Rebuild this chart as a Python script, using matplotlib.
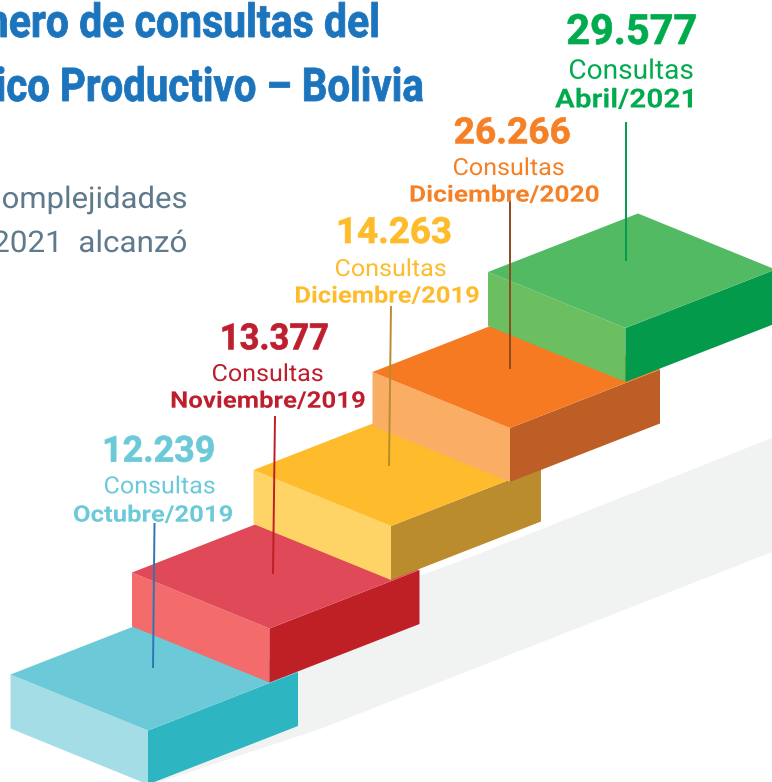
import matplotlib
matplotlib.use("Agg")
import matplotlib.pyplot as plt
from matplotlib.patches import Polygon
from matplotlib.textpath import TextPath
from matplotlib.font_manager import FontProperties
from matplotlib.patheffects import AbstractPathEffect
from matplotlib.transforms import Affine2D

# ---- data ----
months = ["Octubre/2019", "Noviembre/2019", "Diciembre/2019", "Diciembre/2020", "Abril/2021"]
consultas = [12239, 13377, 14263, 26266, 29577]
unit_label = "Consultas"
title_lines = ["Número de consultas del", "Económico Productivo – Bolivia"]
title_fit = ["de consultas del", "Productivo – Bolivia"]
body_lines = ["Complejidades", "2021  alcanzó"]
body_fit = ["omplejidades", "alcanzó"]

# ---- styles ----
top_cols = ["#6CCAD8", "#E04957", "#FEBB2B", "#F67A21", "#52BA63"]
left_cols = ["#A4DDE5", "#F36B6A", "#FFD466", "#FAAD65", "#6CBF60"]
right_cols = ["#2DB5C1", "#BE2025", "#BB8C2D", "#BD5E26", "#049A4C"]
text_cols = ["#6CCAD8", "#BE1E2D", "#FEBB2B", "#F58025", "#00AB4E"]
lead_cols = ["#2E75B6", "#BE1E24", "#BC8C2C", "#8B4A1E", "#049A4C"]
num_size = [26, 26, 26, 26, 30]
con_size = [17, 17, 17, 17, 19.5]
mon_size = [16.5, 16.5, 16.5, 16.5, 19]

# ---- layout (pixels) ----
step_x = [10.5, 132, 253.5, 372.5, 488]
step_y = [674.5, 572.5, 470, 372, 272]
front = (137.5, 56)
side = (150, -58.5)
depth = 54
lead_top = [(154.5, 523), (275, 416), (391, 306), (510, 200), (625.5, 122)]
lead_bot = [(153, 668), (273, 574), (389, 466), (510, 369), (625.5, 261)]
num_x = [(105, 213.5), (222.7, 327.5), (339, 450.2), (455, 569.5), (567.7, 695.5)]
con_x = [(105, 214.5), (213, 322.5), (336, 445.5), (454, 563.5), (570, 692.5)]
mon_x = [(74, 232), (171.7, 364.5), (296, 478.5), (410.7, 598.5), (555, 692)]
num_base = [461.7, 349.3, 243, 143.3, 44]
con_base = [493.3, 381, 276, 175, 78.7]
mon_base = [521.7, 407.7, 302.7, 201.7, 107.5]
shadow_x = [148, 300, 476, 772, 772, 320, 160]
shadow_y = [785, 620, 555, 438, 552, 729, 782]
DPI = 100


class HScale(AbstractPathEffect):
    """Draws the text narrower or wider, anchored at its origin, with an optional thickening stroke."""
    def __init__(self, sx, stroke=0.0):
        super().__init__()
        self.sx = sx
        self.stroke = stroke

    def draw_path(self, renderer, gc, tpath, affine, rgbFace=None):
        g = renderer.new_gc()
        g.copy_properties(gc)
        g.set_linewidth(self.stroke)
        if self.stroke > 0:
            g.set_foreground(rgbFace)
        renderer.draw_path(g, tpath, Affine2D().scale(self.sx, 1) + affine, rgbFace)
        g.restore()


def ink(s, fp):
    e = TextPath((0, 0), s, prop=fp).get_extents()
    return e.x0 * DPI / 72, e.x1 * DPI / 72


def fit_text(ax, s, x0, x1, base, size, weight, color, stroke=0.0):
    fp = FontProperties(family="Roboto", weight=weight, size=size)
    a, b = ink(s, fp)
    sx = (x1 - x0) / (b - a)
    ax.text(x0 - a * sx, base, s, color=color, ha="left", va="baseline", fontproperties=fp,
            path_effects=[HScale(sx, stroke)], zorder=21)


def fit_right(ax, s, sub, sub_width, right, base, size, weight, color, stroke=0.0):
    fp = FontProperties(family="Roboto", weight=weight, size=size)
    a, b = ink(sub, fp)
    sx = sub_width / (b - a)
    _, full = ink(s, fp)
    ax.text(right - full * sx, base, s, color=color, ha="left", va="baseline", fontproperties=fp,
            path_effects=[HScale(sx, stroke)], zorder=21)


fig = plt.figure(figsize=(7.72, 7.82), dpi=DPI, facecolor="white")
ax = fig.add_axes([0, 0, 1, 1])
ax.set_xlim(0, 772)
ax.set_ylim(782, 0)
ax.axis("off")

ax.add_patch(Polygon(list(zip(shadow_x, shadow_y)), closed=True, fc="#F1F3F2", ec="none", zorder=1))

for i in range(len(months)):
    lx, ly = step_x[i], step_y[i]
    fx, fy = lx + front[0], ly + front[1]
    rx, ry = fx + side[0], fy + side[1]
    bx, by = lx + side[0], ly + side[1]
    z = 2 + i
    ax.add_patch(Polygon([(lx, ly), (fx, fy), (fx, fy + depth), (lx, ly + depth)], fc=left_cols[i], ec="none", zorder=z))
    ax.add_patch(Polygon([(fx, fy), (rx, ry), (rx, ry + depth), (fx, fy + depth)], fc=right_cols[i], ec="none", zorder=z))
    ax.add_patch(Polygon([(lx, ly), (bx, by), (rx, ry), (fx, fy)], fc=top_cols[i], ec="none", zorder=z))
    (x0, y0), (x1, y1) = lead_top[i], lead_bot[i]
    ax.plot([x0, x1], [y0, y1], color=lead_cols[i], lw=1.4, zorder=20, solid_capstyle="butt")
    c = text_cols[i]
    fit_text(ax, f"{consultas[i]:,}".replace(",", "."), *num_x[i], num_base[i], num_size[i], "bold", c, 0.5)
    fit_text(ax, unit_label, *con_x[i], con_base[i], con_size[i], "normal", c)
    fit_text(ax, months[i], *mon_x[i], mon_base[i], mon_size[i], "bold", c)

for s, sub, w, r, y in zip(title_lines, title_fit, [297, 360], [377.5, 422.5], [37, 101]):
    fit_right(ax, s, sub, w, r, y, 33.5, "bold", "#1C75BC", 0.6)
for s, sub, w, y in zip(body_lines, body_fit, [183, 106], [208, 252]):
    fit_right(ax, s, sub, w, 186, y, 21.5, "normal", "#5F7A8C")

fig.savefig("out.png", dpi=DPI)
